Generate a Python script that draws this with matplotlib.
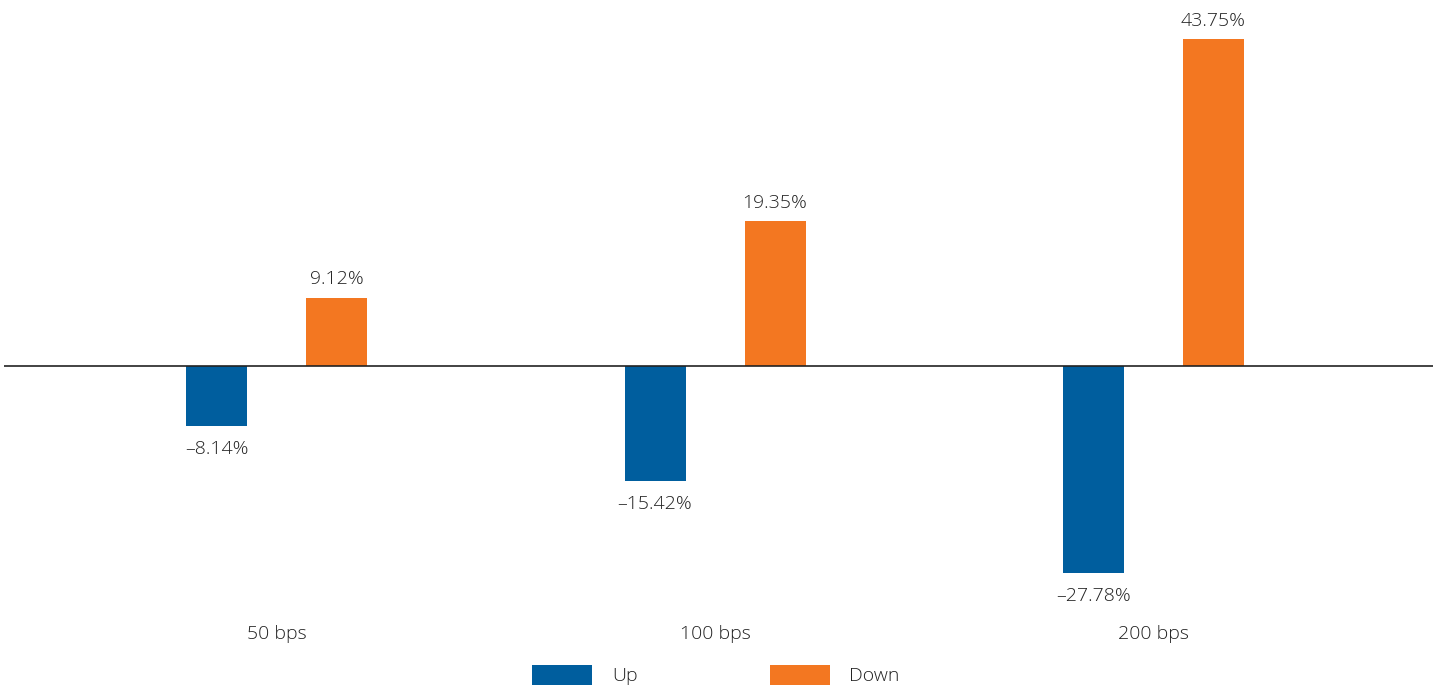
import matplotlib
matplotlib.use("Agg")
import matplotlib.pyplot as plt
from matplotlib.patches import Patch
import numpy as np

categories = ["50 bps", "100 bps", "200 bps"]
up_values = [-8.14, -15.42, -27.78]
down_values = [9.12, 19.35, 43.75]
series_names = ["Up", "Down"]

BLUE = "#005E9E"
ORANGE = "#F37721"
TEXT = "#222222"

plt.rcParams['font.family'] = ['Open Sans', 'DejaVu Sans']
FS = 14

W, H = 1438, 685
fig = plt.figure(figsize=(W / 100, H / 100), dpi=100)

# axes in pixel coordinates
left_px, right_px = 4, 1433
top_px, bot_px = 0, 610
ax = fig.add_axes([left_px / W, 1 - bot_px / H, (right_px - left_px) / W, (bot_px - top_px) / H])

spacing = 438.5
c0 = 276.5
x = np.arange(len(categories))
ax.set_xlim((left_px - c0) / spacing, (right_px - c0) / spacing)
scale = 7.46
zero_px = 365.7
ax.set_ylim(-(bot_px - zero_px) / scale, (zero_px - top_px) / scale)

bw = 61 / spacing
off = 60 / spacing
b1 = ax.bar(x - off, up_values, bw, color=BLUE, zorder=2)
b2 = ax.bar(x + off, down_values, bw, color=ORANGE, zorder=2)
ax.axhline(0, color="#222222", lw=1.2, zorder=3)

for rect, v in zip(b1, up_values):
    ax.annotate(f"{v:.2f}%".replace("-", "\u2013"), (rect.get_x() + rect.get_width() / 2, v),
                xytext=(0, -10), textcoords="offset points", ha="center", va="top",
                fontsize=FS, color=TEXT, fontweight="light")
for rect, v in zip(b2, down_values):
    ax.annotate(f"{v:.2f}%", (rect.get_x() + rect.get_width() / 2, v),
                xytext=(0, 7), textcoords="offset points", ha="center", va="bottom",
                fontsize=FS, color=TEXT, fontweight="light")

for xi, lab in zip(x, categories):
    ax.text(xi, -(634 - zero_px) / scale, lab, ha="center", va="center",
            fontsize=FS, color=TEXT, clip_on=False, fontweight="light")

ax.axis("off")

handles = [Patch(facecolor=BLUE), Patch(facecolor=ORANGE)]
leg = fig.legend(handles, series_names, loc="center", bbox_to_anchor=(716 / W, 1 - 675 / H),
                 ncol=2, frameon=False, fontsize=FS, handlelength=3.1, handleheight=1.2,
                 handletextpad=1.0, columnspacing=6.8, labelcolor=TEXT, borderpad=0)
for t in leg.get_texts():
    t.set_fontweight("light")

fig.savefig("out.png", dpi=100)
